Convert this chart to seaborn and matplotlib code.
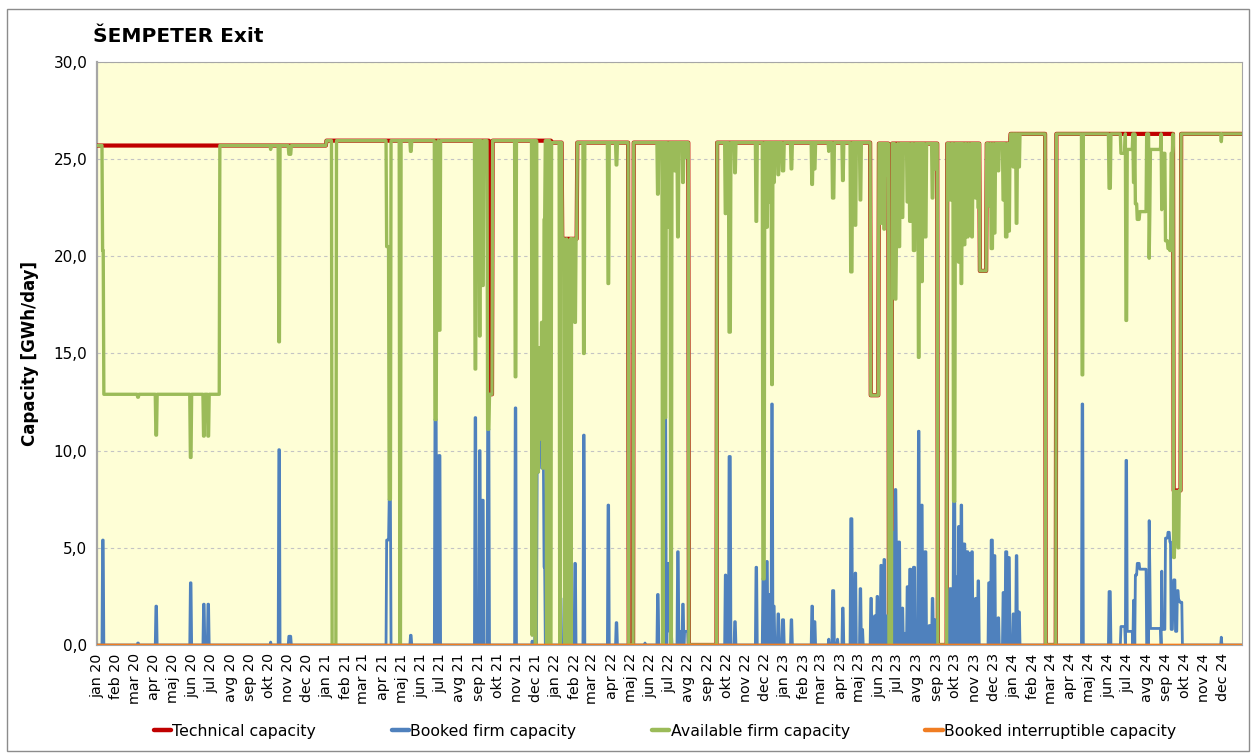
import numpy as np
import pandas as pd
import matplotlib
matplotlib.use("Agg")
import matplotlib.pyplot as plt
import matplotlib.dates as mdates
from matplotlib.ticker import MultipleLocator, FuncFormatter
from matplotlib.lines import Line2D
import seaborn as sns

# Daily axis of the chart
START_DATE = "2020-01-01"
END_DATE = "2024-12-31"

MONTH_NAMES = ["jan", "feb", "mar", "apr", "maj", "jun",
               "jul", "avg", "sep", "okt", "nov", "dec"]

# Technical capacity: (date it changes, new value) in GWh/day
TECH_CHANGES = [
    ("2020-01-01", 25.7), ("2021-01-01", 25.95), ("2021-09-18", 12.9),
    ("2021-09-23", 25.95), ("2021-12-26", 25.85), ("2022-01-12", 20.9),
    ("2022-02-05", 25.85), ("2022-04-28", 0.0), ("2022-05-06", 25.85),
    ("2022-08-02", 0.0), ("2022-09-16", 25.85), ("2023-05-19", 12.85),
    ("2023-06-01", 25.8), ("2023-06-17", 0.0), ("2023-06-22", 25.8),
    ("2023-09-03", 0.0), ("2023-09-18", 25.8), ("2023-11-09", 19.25),
    ("2023-11-20", 25.8), ("2023-12-28", 26.3), ("2024-02-22", 0.0),
    ("2024-03-10", 26.3), ("2024-09-13", 7.95), ("2024-09-25", 26.3),
]

# Booked firm capacity: (first day, last day, value), zero elsewhere
BOOKED_FIRM_EVENTS = [
    ("2020-01-10", "2020-01-11", 5.4), ("2020-03-06", "2020-03-07", 0.1),
    ("2020-04-04", "2020-04-05", 2.0), ("2020-05-29", "2020-05-30", 3.2),
    ("2020-06-19", "2020-06-20", 2.1), ("2020-06-26", "2020-06-27", 2.1),
    ("2020-10-04", "2020-10-04", 0.15), ("2020-10-17", "2020-10-18", 10.05),
    ("2020-11-02", "2020-11-05", 0.45),
    ("2021-04-07", "2021-04-10", 5.4), ("2021-04-11", "2021-04-13", 7.5),
    ("2021-05-15", "2021-05-16", 0.5), ("2021-06-23", "2021-06-25", 11.6),
    ("2021-06-29", "2021-07-01", 9.75), ("2021-08-26", "2021-08-27", 11.7),
    ("2021-09-02", "2021-09-03", 10.0), ("2021-09-06", "2021-09-08", 7.45),
    ("2021-09-15", "2021-09-17", 11.1), ("2021-10-29", "2021-10-30", 12.2),
    ("2021-11-25", "2021-11-25", 0.2), ("2021-11-30", "2021-12-01", 2.4),
    ("2021-12-03", "2021-12-05", 8.9), ("2021-12-06", "2021-12-09", 10.6),
    ("2021-12-10", "2021-12-13", 9.1), ("2021-12-14", "2021-12-15", 4.0),
    ("2021-12-18", "2021-12-18", 0.8),
    ("2022-01-09", "2022-01-10", 2.4), ("2022-01-17", "2022-01-18", 3.9),
    ("2022-01-22", "2022-01-24", 5.9), ("2022-02-01", "2022-02-02", 4.2),
    ("2022-02-15", "2022-02-16", 10.8), ("2022-03-26", "2022-03-27", 7.2),
    ("2022-04-08", "2022-04-09", 1.15), ("2022-05-24", "2022-05-24", 0.1),
    ("2022-06-13", "2022-06-14", 2.6), ("2022-06-25", "2022-06-26", 11.7),
    ("2022-06-29", "2022-07-01", 4.2), ("2022-07-02", "2022-07-05", 0.7),
    ("2022-07-15", "2022-07-16", 4.8), ("2022-07-18", "2022-07-21", 0.7),
    ("2022-07-23", "2022-07-24", 2.1), ("2022-07-26", "2022-07-31", 0.7),
    ("2022-09-29", "2022-09-30", 3.6), ("2022-10-05", "2022-10-07", 9.7),
    ("2022-10-14", "2022-10-15", 1.2), ("2022-11-17", "2022-11-18", 4.0),
    ("2022-11-28", "2022-11-30", 3.4), ("2022-12-04", "2022-12-05", 4.3),
    ("2022-12-07", "2022-12-08", 2.6), ("2022-12-12", "2022-12-13", 12.4),
    ("2022-12-15", "2022-12-16", 2.0), ("2022-12-22", "2022-12-23", 1.6),
    ("2022-12-29", "2022-12-31", 1.3),
    ("2023-01-12", "2023-01-13", 1.3), ("2023-02-14", "2023-02-15", 2.0),
    ("2023-02-18", "2023-02-19", 1.2), ("2023-03-13", "2023-03-13", 0.3),
    ("2023-03-19", "2023-03-21", 2.8), ("2023-03-27", "2023-03-27", 0.3),
    ("2023-04-04", "2023-04-05", 1.9), ("2023-04-17", "2023-04-19", 6.5),
    ("2023-04-24", "2023-04-25", 3.7), ("2023-05-02", "2023-05-03", 2.9),
    ("2023-05-05", "2023-05-06", 0.8), ("2023-05-19", "2023-05-20", 2.4),
    ("2023-05-25", "2023-05-26", 1.5), ("2023-05-29", "2023-05-30", 2.5),
    ("2023-06-04", "2023-06-05", 4.1), ("2023-06-09", "2023-06-10", 4.4),
    ("2023-06-14", "2023-06-15", 1.5), ("2023-06-24", "2023-06-25", 5.8),
    ("2023-06-27", "2023-06-28", 8.0), ("2023-06-29", "2023-06-30", 4.5),
    ("2023-07-02", "2023-07-04", 5.3), ("2023-07-08", "2023-07-09", 1.9),
    ("2023-07-12", "2023-07-13", 0.6), ("2023-07-16", "2023-07-17", 3.0),
    ("2023-07-20", "2023-07-22", 3.9), ("2023-07-26", "2023-07-28", 4.0),
    ("2023-08-03", "2023-08-04", 11.0), ("2023-08-08", "2023-08-09", 7.2),
    ("2023-08-13", "2023-08-15", 4.8), ("2023-08-20", "2023-08-21", 1.0),
    ("2023-08-25", "2023-08-26", 2.4), ("2023-08-29", "2023-08-30", 1.3),
    ("2023-09-22", "2023-09-24", 2.9), ("2023-09-28", "2023-09-30", 7.4),
    ("2023-10-03", "2023-10-04", 3.5), ("2023-10-06", "2023-10-07", 6.1),
    ("2023-10-10", "2023-10-11", 7.2), ("2023-10-14", "2023-10-16", 5.2),
    ("2023-10-19", "2023-10-21", 4.8), ("2023-10-23", "2023-10-25", 4.7),
    ("2023-10-27", "2023-10-28", 4.8), ("2023-11-02", "2023-11-03", 2.4),
    ("2023-11-06", "2023-11-07", 3.3), ("2023-11-23", "2023-11-25", 3.2),
    ("2023-11-27", "2023-11-29", 5.4), ("2023-12-01", "2023-12-03", 4.6),
    ("2023-12-08", "2023-12-09", 1.4), ("2023-12-16", "2023-12-17", 2.7),
    ("2023-12-20", "2023-12-22", 4.8), ("2023-12-24", "2023-12-26", 4.5),
    ("2024-01-01", "2024-01-02", 1.6), ("2024-01-06", "2024-01-07", 4.6),
    ("2024-01-10", "2024-01-11", 1.7), ("2024-04-20", "2024-04-21", 12.4),
    ("2024-06-02", "2024-06-04", 2.75), ("2024-06-21", "2024-06-27", 0.95),
    ("2024-06-29", "2024-06-30", 9.5), ("2024-07-01", "2024-07-09", 0.7),
    ("2024-07-11", "2024-07-12", 2.3), ("2024-07-14", "2024-07-16", 3.6),
    ("2024-07-17", "2024-07-20", 4.2), ("2024-07-21", "2024-07-31", 3.9),
    ("2024-08-05", "2024-08-05", 6.4), ("2024-08-06", "2024-08-06", 3.9),
    ("2024-08-07", "2024-08-23", 0.85), ("2024-08-25", "2024-08-25", 3.8),
    ("2024-08-26", "2024-08-30", 0.8), ("2024-08-31", "2024-09-03", 5.5),
    ("2024-09-04", "2024-09-06", 5.8), ("2024-09-07", "2024-09-08", 5.3),
    ("2024-09-09", "2024-09-11", 0.8), ("2024-09-12", "2024-09-12", 2.2),
    ("2024-09-13", "2024-09-15", 3.35), ("2024-09-16", "2024-09-18", 0.7),
    ("2024-09-19", "2024-09-20", 2.8), ("2024-09-21", "2024-09-22", 2.3),
    ("2024-09-23", "2024-09-26", 2.2), ("2024-11-28", "2024-11-28", 0.4),
]

# Available firm capacity: (first day, last day, value); equals technical elsewhere
AVAILABLE_FIRM_EVENTS = [
    ("2020-01-10", "2020-01-11", 20.3), ("2020-01-12", "2020-07-14", 12.9),
    ("2020-03-06", "2020-03-07", 12.75), ("2020-04-04", "2020-04-05", 10.8),
    ("2020-05-29", "2020-05-30", 9.65), ("2020-06-19", "2020-06-20", 10.75),
    ("2020-06-26", "2020-06-27", 10.75), ("2020-10-04", "2020-10-04", 25.5),
    ("2020-10-17", "2020-10-18", 15.6), ("2020-11-02", "2020-11-05", 25.25),
    ("2021-01-10", "2021-01-16", 0.0), ("2021-04-07", "2021-04-10", 20.5),
    ("2021-04-11", "2021-04-13", 7.5), ("2021-04-28", "2021-04-29", 0.0),
    ("2021-05-15", "2021-05-16", 25.4), ("2021-06-23", "2021-06-25", 11.6),
    ("2021-06-26", "2021-06-27", 22.0), ("2021-06-29", "2021-07-01", 16.2),
    ("2021-08-26", "2021-08-27", 14.2), ("2021-09-02", "2021-09-03", 15.9),
    ("2021-09-06", "2021-09-08", 18.5), ("2021-09-15", "2021-09-17", 11.1),
    ("2021-10-29", "2021-10-30", 13.8), ("2021-11-25", "2021-11-25", 0.5),
    ("2021-11-30", "2021-12-01", 0.0), ("2021-12-03", "2021-12-05", 8.9),
    ("2021-12-06", "2021-12-07", 15.3), ("2021-12-08", "2021-12-09", 10.6),
    ("2021-12-10", "2021-12-11", 16.6), ("2021-12-12", "2021-12-13", 9.1),
    ("2021-12-14", "2021-12-15", 21.9), ("2021-12-18", "2021-12-19", 0.0),
    ("2021-12-21", "2021-12-21", 19.0), ("2021-12-24", "2021-12-25", 0.0),
    ("2022-01-08", "2022-01-09", 0.0), ("2022-01-16", "2022-01-16", 0.0),
    ("2022-01-17", "2022-01-18", 16.8), ("2022-01-20", "2022-01-21", 0.0),
    ("2022-01-22", "2022-01-24", 15.0), ("2022-01-26", "2022-01-26", 0.0),
    ("2022-02-01", "2022-02-02", 16.6), ("2022-02-15", "2022-02-16", 15.0),
    ("2022-03-26", "2022-03-27", 18.6), ("2022-04-08", "2022-04-09", 24.7),
    ("2022-06-13", "2022-06-14", 23.2), ("2022-06-21", "2022-06-22", 0.0),
    ("2022-06-25", "2022-06-26", 11.7), ("2022-06-29", "2022-07-01", 21.5),
    ("2022-07-04", "2022-07-05", 0.0), ("2022-07-10", "2022-07-11", 24.4),
    ("2022-07-15", "2022-07-16", 21.0), ("2022-07-23", "2022-07-24", 23.8),
    ("2022-07-28", "2022-07-29", 25.1), ("2022-09-29", "2022-09-30", 22.2),
    ("2022-10-05", "2022-10-07", 16.1), ("2022-10-14", "2022-10-15", 24.3),
    ("2022-11-17", "2022-11-18", 21.8), ("2022-11-28", "2022-11-30", 3.4),
    ("2022-12-04", "2022-12-05", 21.5), ("2022-12-07", "2022-12-08", 22.8),
    ("2022-12-12", "2022-12-13", 13.4), ("2022-12-15", "2022-12-16", 23.8),
    ("2022-12-22", "2022-12-23", 24.2), ("2022-12-29", "2022-12-31", 24.4),
    ("2023-01-12", "2023-01-13", 24.5), ("2023-02-14", "2023-02-15", 23.7),
    ("2023-02-18", "2023-02-19", 24.5), ("2023-03-13", "2023-03-13", 25.4),
    ("2023-03-19", "2023-03-21", 23.0), ("2023-04-04", "2023-04-05", 23.9),
    ("2023-04-17", "2023-04-19", 19.2), ("2023-04-24", "2023-04-25", 21.6),
    ("2023-05-02", "2023-05-03", 22.9), ("2023-06-04", "2023-06-05", 21.7),
    ("2023-06-09", "2023-06-10", 21.4), ("2023-06-14", "2023-06-15", 24.2),
    ("2023-06-24", "2023-06-25", 19.8), ("2023-06-27", "2023-06-28", 17.8),
    ("2023-06-29", "2023-06-30", 21.0), ("2023-07-02", "2023-07-04", 20.5),
    ("2023-07-08", "2023-07-09", 22.0), ("2023-07-16", "2023-07-17", 22.8),
    ("2023-07-20", "2023-07-22", 21.8), ("2023-07-26", "2023-07-28", 20.3),
    ("2023-08-03", "2023-08-04", 14.8), ("2023-08-08", "2023-08-09", 18.7),
    ("2023-08-13", "2023-08-15", 21.0), ("2023-08-25", "2023-08-26", 23.0),
    ("2023-08-29", "2023-08-30", 24.5), ("2023-09-22", "2023-09-24", 22.9),
    ("2023-09-28", "2023-09-30", 7.4), ("2023-10-03", "2023-10-04", 22.3),
    ("2023-10-06", "2023-10-07", 19.7), ("2023-10-10", "2023-10-11", 18.6),
    ("2023-10-14", "2023-10-16", 20.6), ("2023-10-19", "2023-10-21", 21.0),
    ("2023-10-23", "2023-10-25", 21.1), ("2023-10-27", "2023-10-28", 21.0),
    ("2023-11-02", "2023-11-03", 23.0), ("2023-11-06", "2023-11-07", 22.5),
    ("2023-11-23", "2023-11-25", 22.6), ("2023-11-27", "2023-11-29", 20.4),
    ("2023-12-01", "2023-12-03", 21.2), ("2023-12-08", "2023-12-09", 24.4),
    ("2023-12-16", "2023-12-17", 22.9), ("2023-12-20", "2023-12-22", 21.0),
    ("2023-12-24", "2023-12-26", 21.3),
    ("2024-01-01", "2024-01-02", 24.6), ("2024-01-06", "2024-01-07", 21.7),
    ("2024-01-10", "2024-01-11", 24.6), ("2024-04-20", "2024-04-21", 13.9),
    ("2024-06-02", "2024-06-04", 23.5), ("2024-06-21", "2024-06-27", 25.3),
    ("2024-06-29", "2024-06-30", 16.7), ("2024-07-01", "2024-07-09", 25.5),
    ("2024-07-11", "2024-07-12", 23.8), ("2024-07-14", "2024-07-16", 22.7),
    ("2024-07-17", "2024-07-20", 21.9), ("2024-07-21", "2024-07-31", 22.3),
    ("2024-08-05", "2024-08-05", 19.9), ("2024-08-06", "2024-08-06", 22.3),
    ("2024-08-07", "2024-08-23", 25.5), ("2024-08-25", "2024-08-25", 22.4),
    ("2024-08-26", "2024-08-30", 25.3), ("2024-08-31", "2024-09-03", 20.8),
    ("2024-09-04", "2024-09-06", 20.4), ("2024-09-07", "2024-09-08", 20.3),
    ("2024-09-09", "2024-09-11", 25.3), ("2024-09-13", "2024-09-14", 4.5),
    ("2024-09-15", "2024-09-16", 5.6), ("2024-09-17", "2024-09-19", 7.9),
    ("2024-09-20", "2024-09-21", 5.0), ("2024-11-28", "2024-11-28", 25.9),
]

# Booked interruptible capacity: nothing booked over the whole period
BOOKED_INTERRUPTIBLE_EVENTS = []

SERIES_NAMES = ["Technical capacity", "Booked firm capacity",
                "Available firm capacity", "Booked interruptible capacity"]
COLORS = ["#C00000", "#4F81BD", "#9BBB59", "#F07D22"]
WIDTHS = [3.0, 2.0, 2.4, 1.9]


def step_series(days, changes):
    s = pd.Series(np.nan, index=days)
    for d, v in changes:
        s[pd.Timestamp(d)] = v
    return s.ffill()


def apply_events(base, events):
    s = base.copy()
    for start, end, v in events:
        s[pd.Timestamp(start):pd.Timestamp(end)] = v
    return s


def month_label(x, pos):
    d = mdates.num2date(x)
    return f"{MONTH_NAMES[d.month - 1]} {d.year % 100:02d}"


days = pd.date_range(START_DATE, END_DATE, freq="D")
zero = pd.Series(0.0, index=days)
technical = step_series(days, TECH_CHANGES)
booked_firm = apply_events(zero, BOOKED_FIRM_EVENTS)
available_firm = apply_events(technical, AVAILABLE_FIRM_EVENTS)
booked_interr = apply_events(zero, BOOKED_INTERRUPTIBLE_EVENTS)

df = pd.concat([
    pd.DataFrame({"date": days, "value": s.values, "series": name})
    for name, s in zip(SERIES_NAMES,
                       [technical, booked_firm, available_firm, booked_interr])
], ignore_index=True)

sns.set_style("white")
plt.rcParams["font.family"] = ["DejaVu Sans"]
plt.rcParams["text.color"] = "black"

fig = plt.figure(figsize=(12.51, 7.54), dpi=100)
ax = fig.add_axes([0.0775, 0.1446, 0.9153, 0.7732])
ax.set_facecolor("#FEFED6")

# draw order: technical, available, booked firm, interruptible
for idx in [0, 2, 1, 3]:
    name = SERIES_NAMES[idx]
    sns.lineplot(data=df[df["series"] == name], x="date", y="value",
                 color=COLORS[idx], linewidth=WIDTHS[idx], ax=ax,
                 estimator=None, legend=False, zorder=3 + idx * 0.1)

ax.set_xlim(pd.Timestamp(START_DATE), pd.Timestamp(END_DATE))
ax.set_ylim(0, 30)
ax.yaxis.set_major_locator(MultipleLocator(5))
ax.yaxis.set_major_formatter(FuncFormatter(lambda v, p: f"{v:.1f}".replace(".", ",")))
ax.xaxis.set_major_locator(mdates.MonthLocator())
ax.xaxis.set_major_formatter(FuncFormatter(month_label))
ax.tick_params(axis="x", rotation=90, labelsize=10.3, length=4, color="#A0A0A0",
               pad=2, labelcolor="black")
ax.tick_params(axis="y", labelsize=11, length=4, color="#A0A0A0", pad=3,
               labelcolor="black")
ax.grid(axis="y", color="#C4C4C4", linestyle=(0, (3, 3)), linewidth=0.8)
ax.grid(axis="x", visible=False)
ax.set_axisbelow(True)

for side in ["left", "top", "right", "bottom"]:
    ax.spines[side].set_visible(True)
    ax.spines[side].set_color("#A6A6A6")
ax.spines["left"].set_linewidth(1.6)
ax.spines["top"].set_linewidth(0.8)
ax.spines["right"].set_linewidth(0.8)

ax.set_xlabel("")
ax.set_ylabel("Capacity [GWh/day]", fontsize=12, fontweight="bold",
              labelpad=10, color="black")

fig.text(0.0743, 0.951, "ŠEMPETER Exit", fontsize=14.5, fontweight="bold",
         ha="left", va="center", color="black")

handles = [Line2D([0], [0], color=c, linewidth=3.2) for c in COLORS]
fig.legend(handles, SERIES_NAMES, loc="center", bbox_to_anchor=(0.5316, 0.030),
           ncol=4, frameon=False, fontsize=11.3, handlelength=1.1,
           handletextpad=0.1, columnspacing=4.8, labelcolor="black")

fig.add_artist(plt.Rectangle((0.0056, 0.004), 0.9928, 0.984,
                             transform=fig.transFigure, fill=False,
                             edgecolor="#8C8C8C", linewidth=1))

fig.savefig("out.png", dpi=100, facecolor="white")
